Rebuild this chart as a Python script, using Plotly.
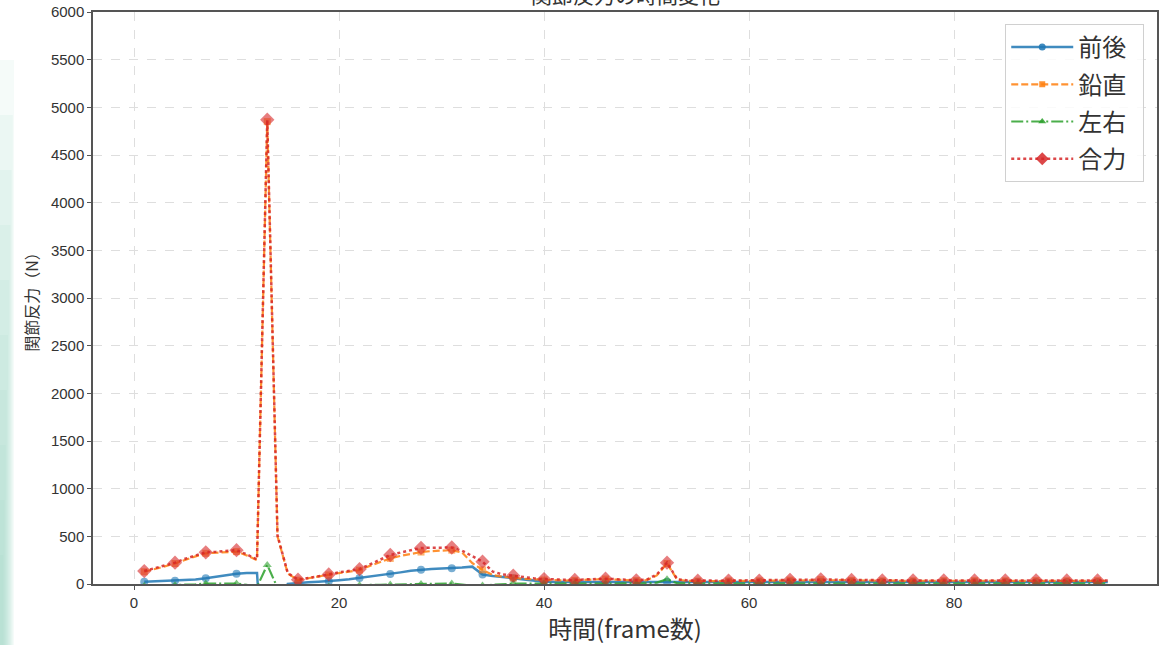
import plotly.graph_objects as go

frames = list(range(1, 96))

fb_force = [24, 28, 32, 35, 40, 48, 60, 75, 92, 108,
            115, 115, -1500, -300, 0, 12, 18, 24, 30, 40,
            50, 63, 78, 92, 105, 122, 138, 150, 158, 162,
            165, 172, 182, 100, 85, 72, 60, 45, 32, 24,
            22, 20, 20, 21, 22, 22, 21, 20, 20, 21,
            22, 24, 22, 21, 20, 20, 21, 21, 20, 20,
            21, 21, 22, 22, 23, 23, 22, 21, 21, 20,
            20, 21, 21, 20, 20, 21, 21, 20, 20, 21,
            21, 20, 20, 21, 21, 20, 20, 21, 21, 20,
            20, 21, 21, 20, 20]

vert_force = [128, 160, 185, 215, 255, 290, 322, 330, 335, 340,
              300, 250, 4850, 500, 110, 40, 60, 80, 95, 115,
              130, 145, 190, 230, 268, 295, 315, 335, 345, 350,
              355, 330, 220, 148, 95, 75, 62, 55, 48, 42,
              38, 36, 38, 42, 48, 52, 45, 38, 35, 40,
              90, 215, 45, 32, 30, 30, 30, 32, 33, 32,
              33, 35, 38, 40, 42, 44, 45, 42, 40, 38,
              36, 34, 33, 32, 32, 33, 34, 35, 34, 33,
              33, 34, 35, 34, 33, 33, 34, 35, 34, 33,
              33, 34, 35, 34, 33]

lr_force = [-20, -18, -15, -12, -8, -3, 5, 6, 6, 5,
            -10, -30, 200, -40, -60, -50, -40, -30, -25, -20,
            -15, -12, -10, -8, -6, -5, -3, 0, 2, 4,
            5, -5, -20, -15, -8, -2, 4, 3, 2, 4,
            5, 5, 5, 5, 5, 5, 5, 5, 5, 6,
            15, 50, 8, 5, 5, 5, 5, 5, 5, 5,
            5, 5, 5, 5, 5, 5, 5, 5, 5, 5,
            5, 5, 5, 5, 5, 5, 5, 5, 5, 5,
            5, 5, 5, 5, 5, 5, 5, 5, 5, 5,
            5, 5, 5, 5, 5]

total_force = [136, 165, 195, 224, 265, 300, 332, 338, 345, 355,
               310, 258, 4870, 510, 115, 45, 62, 85, 100, 122,
               140, 156, 205, 255, 304, 330, 355, 378, 380, 382,
               383, 350, 290, 234, 130, 100, 87, 70, 60, 52,
               48, 44, 42, 48, 52, 56, 50, 42, 39, 45,
               100, 224, 50, 38, 35, 35, 35, 36, 36, 35,
               36, 38, 42, 44, 46, 48, 49, 46, 44, 42,
               40, 38, 37, 36, 36, 37, 38, 39, 38, 37,
               37, 38, 39, 38, 37, 37, 38, 39, 38, 37,
               37, 38, 38, 37, 36]

series_names = ["前後", "鉛直", "左右", "合力"]
x_ticks = [0, 20, 40, 60, 80]
y_ticks = list(range(0, 6001, 500))

styles = [
    dict(color="rgba(31,119,180,0.85)", dash="solid", symbol="circle", size=8, width=2.5),
    dict(color="rgba(255,127,14,0.85)", dash="7px,3px", symbol="square", size=7, width=2.2),
    dict(color="rgba(44,160,44,0.85)", dash="12px,3px,2px,3px", symbol="triangle-up", size=8, width=2.2),
    dict(color="rgba(214,39,40,0.85)", dash="3px,3px", symbol="diamond", size=11, width=2.5),
]

fig = go.Figure()
data = [fb_force, vert_force, lr_force, total_force]
for name, ys, st in zip(series_names, data, styles):
    sizes = [st["size"] if i % 3 == 0 else 0 for i in range(len(ys))]
    fig.add_trace(go.Scatter(
        x=frames, y=ys, mode="lines+markers", showlegend=False,
        line=dict(color=st["color"], width=st["width"], dash=st["dash"]),
        marker=dict(color=st["color"], symbol=st["symbol"], size=sizes, line=dict(width=0)),
        hoverinfo="x+y", name=name))
for name, st in zip(series_names, styles):
    fig.add_trace(go.Scatter(
        x=[None], y=[None], mode="lines+markers", name=name + "\u2002", legendgroup=name,
        line=dict(color=st["color"], width=st["width"], dash=st["dash"]),
        marker=dict(color=st["color"], symbol=st["symbol"], size=st["size"] - 1)))

W, H = 1169, 645
ml, mr, mt, mb = 93, 12, 12, 61
pw, ph = W - ml - mr, H - mt - mb

def px_x(p):
    return (p - ml) / pw

def px_y(p):
    return (H - mb - p) / ph

# left-edge background gradient (screenshot frame)
shapes = []
for i in range(10):
    shapes.append(dict(type="rect", xref="paper", yref="paper", layer="below",
                       x0=px_x(0), x1=px_x(14 - 1.2 * i),
                       y0=px_y(H), y1=px_y(60 + 55 * i),
                       fillcolor="#8fd3bd", opacity=0.09, line=dict(width=0)))

fig.update_layout(
    width=W, height=H,
    margin=dict(l=ml, r=mr, t=mt, b=mb, autoexpand=False),
    paper_bgcolor="white", plot_bgcolor="white",
    font=dict(family="Liberation Sans, Noto Sans CJK JP", color="#333", size=15),
    shapes=shapes,
    showlegend=True,
    legend=dict(x=0.988, y=0.979, xanchor="right", yanchor="top",
                bgcolor="rgba(255,255,255,0.85)", bordercolor="#d0d0d0", borderwidth=1,
                font=dict(family="Noto Sans CJK JP", size=24, color="#333"),
                itemwidth=62, tracegroupgap=3),
    annotations=[dict(text="関節反力の時間変化", xref="paper", yref="paper", x=0.5, y=1,
                      yshift=1, yanchor="bottom", showarrow=False,
                      font=dict(family="Noto Sans CJK JP", size=21, color="#333"))],
)
fig.update_xaxes(range=[-4.0, 99.8], tickvals=x_ticks, ticks="outside", ticklen=4,
                 tickcolor="#555", showline=True, linecolor="#555", linewidth=1.5, mirror=True,
                 showgrid=True, gridcolor="#dedede", griddash="dash", gridwidth=1, zeroline=False,
                 automargin=False, tickfont=dict(size=15, color="#333"),
                 title=dict(text="時間(frame数)", font=dict(family="Noto Sans CJK JP", size=24, color="#333"), standoff=4))
fig.update_yaxes(range=[0, 6000], tickvals=y_ticks, ticks="outside", ticklen=4,
                 tickcolor="#555", showline=True, linecolor="#555", linewidth=1.5, mirror=True,
                 showgrid=True, gridcolor="#dedede", griddash="dash", gridwidth=1, zeroline=False,
                 automargin=False, tickfont=dict(size=15, color="#333"),
                 title=dict(text="関節反力（N）", font=dict(family="Noto Sans CJK JP", size=16, color="#333"), standoff=8))

fig.write_html("out.html", config={"displayModeBar": False},
               post_script="document.body.style.margin='0';document.body.style.overflow='hidden';")
